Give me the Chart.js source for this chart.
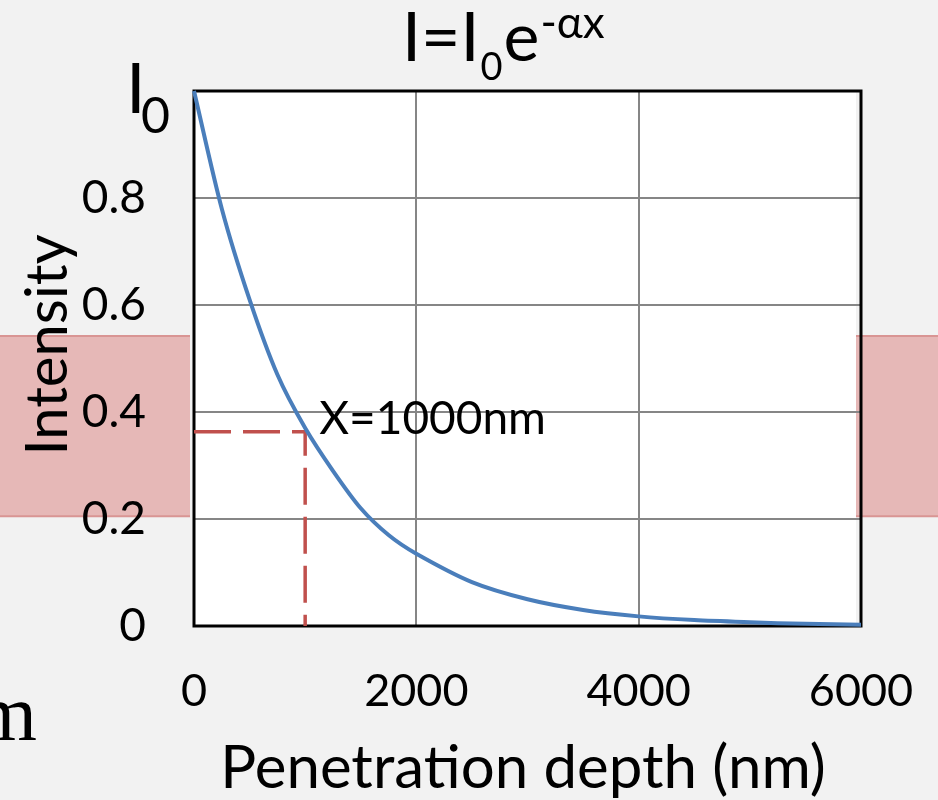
<!DOCTYPE html>
<html>
<head>
<meta charset="utf-8">
<script src="https://cdn.jsdelivr.net/npm/chart.js@4/dist/chart.umd.min.js"></script>
<style>
  html, body { margin: 0; padding: 0; background: #f2f2f2; }
  canvas { display: block; }
</style>
</head>
<body>
<canvas id="chart" width="938" height="800"></canvas>
<script>
// intensity curve
const depthNm = [0, 250, 500, 750, 1000, 1250, 1500, 1750, 2000, 2500, 3000, 3500, 4000, 4500, 5000, 5500, 6000];
const intensity = [1.0, 0.78, 0.61, 0.47, 0.37, 0.29, 0.22, 0.17, 0.135, 0.082, 0.05, 0.03, 0.018, 0.011, 0.007, 0.004, 0.0025];

// dashed guide at X = 1000 nm
const guideX = [0, 1000, 1000];
const guideY = [0.363, 0.363, 0];

// highlighted band behind the plot (intensity range)
const bandLow = 0.205;
const bandHigh = 0.542;

const yTicks = [0, 0.2, 0.4, 0.6, 0.8, 1];
const xTicks = [0, 2000, 4000, 6000];

const FONT = "Lato, 'Open Sans', sans-serif";

const decor = {
  id: "decor",
  beforeDraw(chart) {
    const { ctx, chartArea: a, scales: { y } } = chart;
    ctx.save();
    ctx.fillStyle = "#f2f2f2";
    ctx.fillRect(0, 0, chart.width, chart.height);

    // pink bands either side
    const top = y.getPixelForValue(bandHigh);
    const bot = y.getPixelForValue(bandLow);
    ctx.fillStyle = "#e6b8b7";
    ctx.fillRect(0, top, a.left - 4, bot - top);
    ctx.fillRect(a.right - 5, top, chart.width - a.right + 5, bot - top);
    ctx.strokeStyle = "#d99594";
    ctx.lineWidth = 2;
    ctx.beginPath();
    ctx.moveTo(0, top); ctx.lineTo(a.left - 4, top);
    ctx.moveTo(0, bot); ctx.lineTo(a.left - 4, bot);
    ctx.moveTo(a.right - 5, top); ctx.lineTo(chart.width, top);
    ctx.moveTo(a.right - 5, bot); ctx.lineTo(chart.width, bot);
    ctx.stroke();

    // white plot area
    ctx.fillStyle = "#ffffff";
    ctx.fillRect(a.left - 1, a.top, a.right - a.left - 4, a.bottom - a.top);
    ctx.restore();
  },
  beforeDatasetsDraw(chart) {
    const { ctx, chartArea: a } = chart;
    ctx.save();
    ctx.strokeStyle = "#000";
    ctx.lineWidth = 3;
    ctx.strokeRect(a.left, a.top, a.right - a.left, a.bottom - a.top);
    ctx.restore();
  },
  afterDraw(chart) {
    const { ctx, scales: { x, y } } = chart;
    ctx.save();
    ctx.fillStyle = "#000";
    ctx.textBaseline = "alphabetic";

    // title  I=I0e^-αx
    let tx = 402;
    const base = 61;
    ctx.textAlign = "left";
    ctx.font = "68px " + FONT;
    ctx.fillText("I=I", tx, base);
    tx += ctx.measureText("I=I").width + 1;
    ctx.font = "38px " + FONT;
    ctx.fillText("0", tx, base + 19);
    tx += ctx.measureText("0").width + 1;
    ctx.font = "68px " + FONT;
    ctx.fillText("e", tx, base);
    tx += ctx.measureText("e").width + 1;
    ctx.font = "44px " + FONT;
    ctx.fillText("-αx", tx, base - 23);

    // I0 label for the top tick
    ctx.font = "70px " + FONT;
    ctx.fillText("I", 126, 113);
    ctx.font = "50px " + FONT;
    ctx.fillText("0", 141, 133);

    // annotation
    ctx.font = "46px " + FONT;
    ctx.fillText("X=1000nm", x.getPixelForValue(1000) + 14, y.getPixelForValue(guideY[0]) + 2);

    // axis titles
    ctx.font = "60px " + FONT;
    ctx.textAlign = "center";
    ctx.fillText("Penetration depth (nm)", 523, 788);

    ctx.save();
    ctx.translate(67, 345);
    ctx.rotate(-Math.PI / 2);
    ctx.font = "58px " + FONT;
    ctx.fillText("Intensity", 0, 0);
    ctx.restore();

    // stray serif letter at left edge
    ctx.font = "80px 'Liberation Serif', serif";
    ctx.textAlign = "right";
    ctx.fillText("m", 37, 740);
    ctx.restore();
  }
};

new Chart(document.getElementById("chart"), {
  type: "line",
  data: {
    datasets: [
      {
        label: "Intensity",
        data: depthNm.map((d, i) => ({ x: d, y: intensity[i] })),
        borderColor: "#4a7ebb",
        borderWidth: 4,
        pointRadius: 0,
        tension: 0.3,
        fill: false,
        clip: false
      },
      {
        label: "X=1000nm",
        data: guideX.map((d, i) => ({ x: d, y: guideY[i] })),
        borderColor: "#c0504d",
        borderWidth: 3.5,
        borderDash: [37, 12],
        pointRadius: 0,
        tension: 0,
        fill: false,
        clip: false
      }
    ]
  },
  options: {
    responsive: false,
    animation: false,
    layout: { padding: { top: 91, right: 77, left: 0, bottom: 0 } },
    plugins: {
      legend: { display: false },
      title: { display: false },
      tooltip: { enabled: false }
    },
    scales: {
      x: {
        type: "linear",
        min: 0,
        max: 6000,
        afterFit(scale) {
          scale.height = 174;
          scale.paddingLeft = 0;
          scale.paddingRight = 0;
        },
        afterBuildTicks(scale) { scale.ticks = xTicks.map(v => ({ value: v })); },
        border: { display: false },
        grid: { color: "#868686", lineWidth: 2, drawTicks: false },
        ticks: {
          color: "#000",
          padding: 38,
          maxRotation: 0,
          font: { family: FONT, size: 45 },
          callback: v => String(v)
        }
      },
      y: {
        min: 0,
        max: 1,
        afterFit(scale) {
          scale.width = 194;
          scale.paddingTop = 0;
          scale.paddingBottom = 0;
        },
        afterBuildTicks(scale) { scale.ticks = yTicks.map(v => ({ value: v })); },
        border: { display: false },
        grid: { color: "#868686", lineWidth: 2, drawTicks: false },
        ticks: {
          color: "#000",
          padding: 48,
          font: { family: FONT, size: 46 },
          callback: v => (v === 1 ? "" : (v === 0 ? "0" : v.toFixed(1)))
        }
      }
    }
  },
  plugins: [decor]
});
</script>
</body>
</html>
